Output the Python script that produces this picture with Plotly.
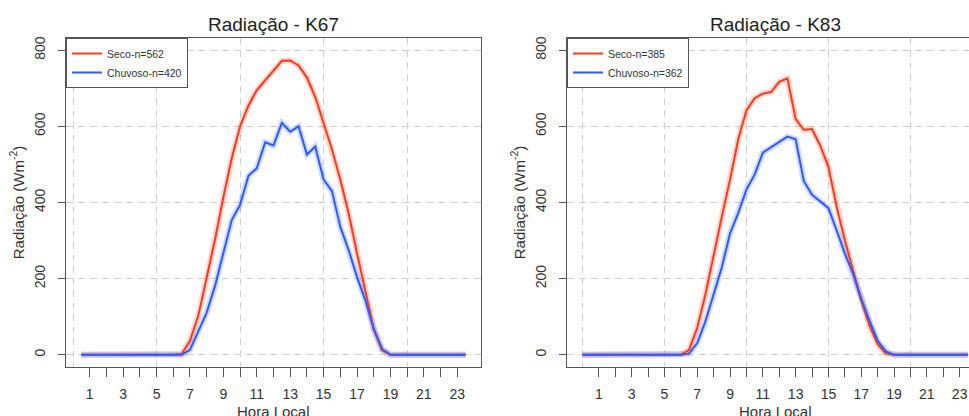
import plotly.graph_objects as go

W, H = 969, 416

# ---------------- data ----------------
hours_k67 = [0.5, 1.0, 1.5, 2.0, 2.5, 3.0, 3.5, 4.0, 4.5, 5.0, 5.5, 6.0,
             6.5, 7.0, 7.5, 8.0, 8.5, 9.0, 9.5, 10.0, 10.5, 11.0, 11.5, 12.0,
             12.5, 13.0, 13.5, 14.0, 14.5, 15.0, 15.5, 16.0, 16.5, 17.0, 17.5, 18.0,
             18.5, 19.0, 19.5, 20.0, 20.5, 21.0, 21.5, 22.0, 22.5, 23.0, 23.5]
seco_k67 = [0, 0, 0, 0, 0, 0, 0, 0, 0, 0, 0, 0,
            2, 37, 103, 200, 303, 414, 516, 600, 655, 695, 721, 748,
            772, 773, 760, 728, 677, 608, 539, 460, 371, 266, 169, 68,
            12, 0, 0, 0, 0, 0, 0, 0, 0, 0, 0]
chuvoso_k67 = [0, 0, 0, 0, 0, 0, 0, 0, 0, 0, 0, 0,
               0, 13, 62, 111, 181, 265, 354, 394, 470, 490, 558, 550,
               609, 586, 600, 526, 547, 460, 430, 336, 275, 204, 143, 68,
               15, 0, 0, 0, 0, 0, 0, 0, 0, 0, 0]

hours_k83 = [0.0, 0.5, 1.0, 1.5, 2.0, 2.5, 3.0, 3.5, 4.0, 4.5, 5.0, 5.5, 6.0,
             6.5, 7.0, 7.5, 8.0, 8.5, 9.0, 9.5, 10.0, 10.5, 11.0, 11.5, 12.0,
             12.5, 13.0, 13.5, 14.0, 14.5, 15.0, 15.5, 16.0, 16.5, 17.0, 17.5, 18.0,
             18.5, 19.0, 19.5, 20.0, 20.5, 21.0, 21.5, 22.0, 22.5, 23.0, 23.5]
seco_k83 = [0, 0, 0, 0, 0, 0, 0, 0, 0, 0, 0, 0, 0,
            13, 71, 159, 265, 363, 460, 566, 642, 674, 686, 690, 717,
            726, 619, 591, 593, 549, 493, 389, 301, 222, 143, 77, 28,
            4, 0, 0, 0, 0, 0, 0, 0, 0, 0, 0]
chuvoso_k83 = [0, 0, 0, 0, 0, 0, 0, 0, 0, 0, 0, 0, 0,
               3, 31, 88, 159, 230, 319, 372, 434, 473, 531, 544, 559,
               573, 566, 456, 420, 403, 385, 327, 266, 213, 147, 90, 37,
               9, 0, 0, 0, 0, 0, 0, 0, 0, 0, 0]

x_tick_vals = [1, 2, 3, 4, 5, 6, 7, 8, 9, 10, 11, 12, 13, 14, 15, 16, 17, 18, 19, 20, 21, 22, 23]
x_tick_text = ["1", "", "3", "", "5", "", "7", "", "9", "", "11", "", "13", "",
               "15", "", "17", "", "19", "", "21", "", "23"]
x_grid_vals = [0, 5, 10, 15, 20]
y_tick_vals = [0, 200, 400, 600, 800]

panel_titles = ["Radiação - K67", "Radiação - K83"]
names_k67 = ["Seco-n=562", "Chuvoso-n=420"]
names_k83 = ["Seco-n=385", "Chuvoso-n=362"]
x_title = "Hora Local"
y_title = "Radiação (Wm<sup>-2</sup>)"

# ---------------- style ----------------
FONT = "Liberation Sans, Arial, Helvetica, sans-serif"
RED, BLUE = "#ff3a1c", "#2d5bff"
RED_BAND, BLUE_BAND = "rgba(255,58,28,0.22)", "rgba(45,91,255,0.22)"
AX = "#555555"
GRID = "#cfcfcf"
DASH = "7px,5px"

fig = go.Figure()


def add_panel(xa_band, xa_line, ya, hours, seco, chuv, names, legend):
    series = [(seco, RED, RED_BAND, names[0]), (chuv, BLUE, BLUE_BAND, names[1])]
    for vals, col, band, name in series:
        fig.add_trace(go.Scatter(x=hours, y=vals, xaxis=xa_band, yaxis=ya, mode="lines",
                                 line=dict(color=band, width=6), showlegend=False,
                                 hoverinfo="skip"))
    for vals, col, band, name in series:
        fig.add_trace(go.Scatter(x=hours, y=vals, xaxis=xa_line, yaxis=ya, mode="lines",
                                 line=dict(color=col, width=2), name=name,
                                 legend=legend))


add_panel("x", "x3", "y", hours_k67, seco_k67, chuvoso_k67, names_k67, "legend")
add_panel("x2", "x4", "y2", hours_k83, seco_k83, chuvoso_k83, names_k83, "legend2")

ydom = [49 / H, 378 / H]
x1dom = [66 / W, 481 / W]
x2dom = [567 / W, 1.0]
xr1 = [-0.42, 24.42]
xr2 = [-0.94, 23.57]
yr = [-32, 832]

xcommon = dict(tickmode="array", tickvals=x_tick_vals, ticktext=x_tick_text,
               ticks="outside", ticklen=9, tickwidth=1, tickcolor=AX,
               showgrid=False, zeroline=False, showline=True, linecolor=AX,
               linewidth=1, tickfont=dict(size=14, color="#333"),
               ticklabelstandoff=5)
ycommon = dict(tickmode="array", tickvals=y_tick_vals, tickangle=-90,
               ticks="outside", ticklen=7, tickwidth=1, tickcolor=AX,
               showgrid=True, gridcolor=GRID, griddash=DASH, gridwidth=1,
               zeroline=False, showline=True, linecolor=AX, linewidth=1,
               tickfont=dict(size=14, color="#333"), ticklabelstandoff=7,
               range=yr, domain=ydom,
               title=dict(text=y_title, font=dict(size=15, color="#333"), standoff=4))
gridcommon = dict(tickmode="array", tickvals=x_grid_vals, showticklabels=False,
                  ticks="", showgrid=True, gridcolor=GRID, griddash=DASH,
                  gridwidth=1, zeroline=False, showline=False)

legcommon = dict(xanchor="left", yanchor="top", bgcolor="white",
                 bordercolor=AX, borderwidth=1,
                 font=dict(family=FONT, size=10.5, color="#333"),
                 tracegroupgap=0, itemwidth=30)

title_font = dict(size=19, color="#222")
xtitle_font = dict(size=15, color="#333")
centers = [(66 + 481) / 2 / W, (567 + 983) / 2 / W]

annotations = []
for cx, t in zip(centers, panel_titles):
    annotations.append(dict(text=t, x=cx, y=(H - 24) / H, xref="paper", yref="paper",
                            showarrow=False, xanchor="center", yanchor="middle",
                            font=title_font))
    annotations.append(dict(text=x_title, x=cx, y=5 / H, xref="paper", yref="paper",
                            showarrow=False, xanchor="center", yanchor="middle",
                            font=xtitle_font))

fig.update_layout(
    width=W, height=H,
    margin=dict(l=0, r=0, t=0, b=0, autoexpand=False),
    paper_bgcolor="white", plot_bgcolor="white",
    font=dict(family=FONT, color="#333"),
    xaxis=dict(domain=x1dom, range=xr1, anchor="y", mirror=True, **xcommon),
    yaxis=dict(anchor="x", mirror=True, **ycommon),
    xaxis2=dict(domain=x2dom, range=xr2, anchor="y2", mirror=True, **xcommon),
    yaxis2=dict(anchor="x2", mirror=False, **ycommon),
    xaxis3=dict(overlaying="x", anchor="y", range=xr1, **gridcommon),
    xaxis4=dict(overlaying="x2", anchor="y2", range=xr2, **gridcommon),
    legend=dict(x=x1dom[0], y=ydom[1], **legcommon),
    legend2=dict(x=x2dom[0], y=ydom[1], **legcommon),
    showlegend=True,
    annotations=annotations,
)

fig.write_html("out.html", config={"displayModeBar": False},
               post_script="document.body.style.margin='0px';document.body.style.overflow='hidden';")
